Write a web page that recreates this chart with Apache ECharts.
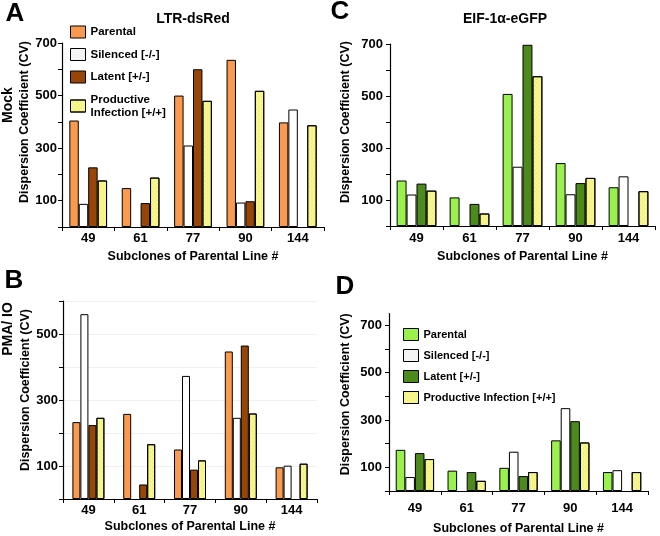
<!DOCTYPE html>
<html>
<head>
<meta charset="utf-8">
<script src="https://cdn.jsdelivr.net/npm/echarts@6/dist/echarts.min.js"></script>
<style>
html,body{margin:0;padding:0;background:#fff;}
#chart{width:660px;height:536px;}
</style>
</head>
<body>
<div id="chart"></div>
<script>
const categories = ['49', '61', '77', '90', '144'];
const seriesNames = ['Parental', 'Silenced [-/-]', 'Latent [+/-]', 'Productive Infection [+/+]'];

// Panel A: LTR-dsRed, Mock
const parentalA   = [405, 148, 500, 636, 398];
const silencedA   = [88, null, 310, 93, 447];
const latentA     = [227, 91, 600, 98, null];
const productiveA = [177, 188, 480, 518, 387];

// Panel B: LTR-dsRed, PMA/IO
const parentalB   = [233, 258, 150, 447, 96];
const silencedB   = [560, null, 373, 246, 101];
const latentB     = [224, 44, 89, 465, null];
const productiveB = [246, 166, 117, 259, 107];

// Panel C: EIF-1a-eGFP, Mock
const parentalC   = [175, 110, 508, 242, 149];
const silencedC   = [121, null, 228, 122, 191];
const latentC     = [163, 85, 697, 165, null];
const productiveC = [136, 48, 576, 185, 134];

// Panel D: EIF-1a-eGFP, PMA/IO
const parentalD   = [174, 86, 98, 214, 80];
const silencedD   = [59, null, 166, 350, 88];
const latentD     = [160, 80, 63, 295, null];
const productiveD = [135, 43, 80, 205, 80];

const yTickValues = [0, 100, 200, 300, 400, 500, 600, 700];
const yLabelValues = [100, 300, 500, 700];
const yLabelValuesB = [100, 300, 500];

const ORANGE = '#F99A4E', BROWN = '#984608', YELLOW = '#F7F78E', WHITE = '#FFFFFF';
const LGREEN = '#9AF04C', DGREEN = '#4C8A1C';
const FONT = 'Liberation Sans, Arial, Helvetica, sans-serif';
const HATCH = {symbol: 'rect', symbolSize: 1, color: 'rgba(200,200,80,0.45)',
               dashArrayX: [1, 2], dashArrayY: [1, 2], rotation: Math.PI / 4};

const grids = [
  {left: 62, top: 43, width: 262, height: 184},
  {left: 63, top: 301, width: 254, height: 198},
  {left: 390, top: 44, width: 265, height: 182},
  {left: 389, top: 313.5, width: 259, height: 185}
];

function xAxisFor(i, labelMargin, nameGap) {
  return {
    type: 'category', gridIndex: i, data: categories,
    axisLine: {lineStyle: {color: '#000', width: 1.2}},
    axisTick: {show: true, length: 4, lineStyle: {color: '#000'}},
    axisLabel: {color: '#000', fontWeight: 'bold', fontSize: 13, fontFamily: FONT, margin: labelMargin},
    name: 'Subclones of Parental Line #', nameLocation: 'middle', nameGap: nameGap,
    nameTextStyle: {color: '#000', fontWeight: 'bold', fontSize: 12.5, fontFamily: FONT}
  };
}
function yAxisFor(i, max, labels, labelMargin, nameGap, shift, splitLine) {
  return {
    type: 'value', gridIndex: i, min: 0, max: max,
    axisLine: {show: true, lineStyle: {color: '#000', width: 1.2}},
    axisTick: {show: true, length: 4, lineStyle: {color: '#000'}, customValues: yTickValues.filter(v => v <= max)},
    axisLabel: {color: '#000', fontWeight: 'bold', fontSize: 13, fontFamily: FONT, margin: labelMargin, customValues: labels},
    splitLine: {show: !!splitLine, lineStyle: {color: '#f0f0f0', width: 1}},
    name: 'Dispersion Coefficient (CV)', nameLocation: 'middle', nameGap: nameGap,
    nameTextStyle: {color: '#000', fontWeight: 'bold', fontSize: 12.5, fontFamily: FONT, padding: [0, 0, 0, shift]}
  };
}

function barSeries(name, data, color, i, gap, hatch) {
  const style = {color: color, borderColor: '#000', borderWidth: 1};
  if (hatch) style.decal = HATCH;
  return {
    type: 'bar', name: name, data: data, xAxisIndex: i, yAxisIndex: i,
    barGap: '0%', barCategoryGap: gap,
    itemStyle: style,
    emphasis: {disabled: true}
  };
}

const panelData = [
  [parentalA, silencedA, latentA, productiveA],
  [parentalB, silencedB, latentB, productiveB],
  [parentalC, silencedC, latentC, productiveC],
  [parentalD, silencedD, latentD, productiveD]
];
const panelColors = [
  [ORANGE, WHITE, BROWN, YELLOW],
  [ORANGE, WHITE, BROWN, YELLOW],
  [LGREEN, WHITE, DGREEN, YELLOW],
  [LGREEN, WHITE, DGREEN, YELLOW]
];
const panelGaps = ['28%', '37%', '25%', '26%'];

const series = [];
panelData.forEach((arrs, i) => {
  arrs.forEach((d, k) => series.push(barSeries(seriesNames[k], d, panelColors[i][k], i, panelGaps[i], k === 3)));
});

function legendFor(left, top, colors, fontSize, gap, twoLine) {
  return {
    orient: 'vertical', left: left, top: top, padding: 0,
    itemWidth: 15, itemHeight: 12, itemGap: gap, selectedMode: false,
    icon: 'rect',
    itemStyle: {borderColor: '#000', borderWidth: 1},
    textStyle: {color: '#000', fontWeight: 'bold', fontSize: fontSize, fontFamily: FONT, lineHeight: 13},
    formatter: twoLine ? (n => n.replace(' Infection', '\nInfection')) : (n => n),
    data: seriesNames.map((n, k) => ({name: n, itemStyle: {color: k === 1 ? '#F4F4F4' : colors[k], borderColor: '#000', borderWidth: 1}}))
  };
}

const option = {
  backgroundColor: '#fff',
  animation: false,
  textStyle: {fontFamily: FONT},
  aria: {enabled: false, decal: {show: false}},
  title: [
    {text: 'LTR-dsRed', left: 193, top: 12, textAlign: 'center', padding: 0,
     textStyle: {fontSize: 14, fontWeight: 'bold', color: '#000', fontFamily: FONT}},
    {text: 'EIF-1α-eGFP', left: 505, top: 12, textAlign: 'center', padding: 0,
     textStyle: {fontSize: 14, fontWeight: 'bold', color: '#000', fontFamily: FONT}}
  ],
  legend: [
    legendFor(70, 25.5, panelColors[0], 11.5, 9.5, true),
    legendFor(403, 328, panelColors[3], 11, 8, false)
  ],
  grid: grids,
  xAxis: [
    xAxisFor(0, 5, 23.5),
    xAxisFor(1, 5, 21.5),
    xAxisFor(2, 5.5, 24.5),
    xAxisFor(3, 11, 31)
  ],
  yAxis: [
    yAxisFor(0, 700, yLabelValues, 5, 25.5, 26, false),
    yAxisFor(1, 600, yLabelValuesB, 5, 27, 20, true),
    yAxisFor(2, 700, yLabelValues, 7, 37.5, 26, false),
    yAxisFor(3, 750, yLabelValues, 7, 36.5, 16, false)
  ],
  series: series,
  graphic: [
    {type: 'text', x: 15, y: 14, style: {text: 'A', font: 'bold 26px ' + FONT, fill: '#000', textAlign: 'center', textVerticalAlign: 'middle'}},
    {type: 'text', x: 14, y: 281, style: {text: 'B', font: 'bold 26px ' + FONT, fill: '#000', textAlign: 'center', textVerticalAlign: 'middle'}},
    {type: 'text', x: 340, y: 12, style: {text: 'C', font: 'bold 26px ' + FONT, fill: '#000', textAlign: 'center', textVerticalAlign: 'middle'}},
    {type: 'text', x: 345, y: 287, style: {text: 'D', font: 'bold 26px ' + FONT, fill: '#000', textAlign: 'center', textVerticalAlign: 'middle'}},
    {type: 'text', x: 8, y: 105, rotation: Math.PI / 2, style: {text: 'Mock', font: 'bold 14px ' + FONT, fill: '#000', textAlign: 'center', textVerticalAlign: 'middle'}},
    {type: 'text', x: 8, y: 329, rotation: Math.PI / 2, style: {text: 'PMA/ IO', font: 'bold 14px ' + FONT, fill: '#000', textAlign: 'center', textVerticalAlign: 'middle'}}
  ]
};

const chart = echarts.init(document.getElementById('chart'), null, {renderer: 'canvas'});
chart.setOption(option);
</script>
</body>
</html>
